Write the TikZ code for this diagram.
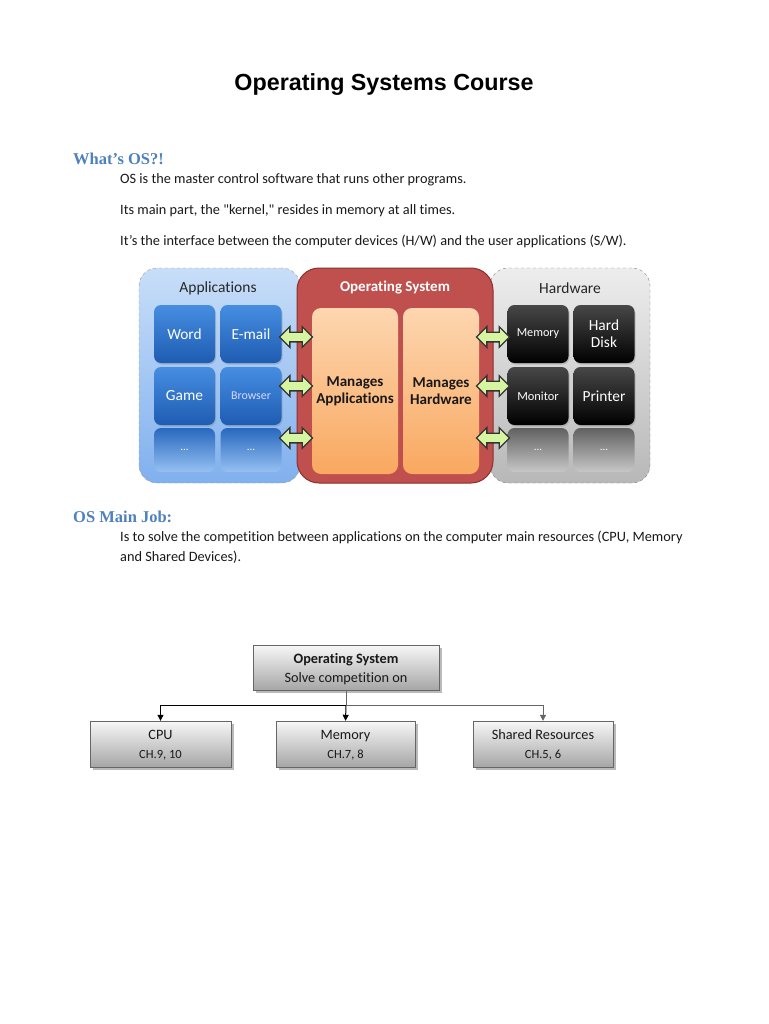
\documentclass[tikz,border=0pt]{standalone}
\usepackage{fontspec}
\setmainfont{Carlito}[Ligatures={TeXOff,NoCommon}]
\newfontfamily\titlefont{Liberation Sans}
\newfontfamily\headfont{Liberation Serif}
\usetikzlibrary{shapes.arrows,shadows,arrows.meta}
\definecolor{headblue}{RGB}{79,129,189}
\definecolor{osred}{RGB}{192,80,77}
\definecolor{osredd}{RGB}{140,48,46}
\newcommand\chsize{\fontsize{12.5}{19}\selectfont}
\tikzset{
  bodytxt/.style={anchor=west,inner sep=0pt,font=\fontsize{14.3}{17}\selectfont,text=black!90},
  headtxt/.style={anchor=west,inner sep=0pt,font=\headfont\bfseries\fontsize{16.5}{19}\selectfont,text=headblue},
  panelapp/.style={draw=black!40,dashed,rounded corners=18pt,top color={rgb,255:red,200;green,222;blue,248},bottom color={rgb,255:red,128;green,176;blue,238},minimum width=161pt,minimum height=215pt,inner sep=0pt},
  panelhw/.style={draw=black!50,dashed,rounded corners=18pt,top color=black!7,bottom color=black!28,minimum width=160pt,minimum height=215pt,inner sep=0pt},
  panelos/.style={draw=osredd,line width=1pt,rounded corners=22pt,fill=osred,minimum width=196pt,minimum height=215pt,inner sep=0pt},
  bluetile/.style={rounded corners=7pt,top color={rgb,255:red,70;green,142;blue,225},bottom color={rgb,255:red,30;green,92;blue,178},minimum width=61pt,minimum height=58pt,inner sep=0pt,text=white,font=\fontsize{15.4}{17}\selectfont,drop shadow={shadow xshift=1pt,shadow yshift=-1.5pt,opacity=0.35}},
  bluefade/.style={rounded corners=7pt,top color={rgb,255:red,40;green,104;blue,190},bottom color={rgb,255:red,150;green,192;blue,242},minimum width=61pt,minimum height=44pt,inner sep=0pt,text=white,font=\fontsize{11}{12}\selectfont},
  blacktile/.style={rounded corners=7pt,top color=black!72,bottom color=black,minimum width=61pt,minimum height=58pt,inner sep=0pt,text=white,font=\fontsize{15.4}{17}\selectfont,align=center,drop shadow={shadow xshift=1pt,shadow yshift=-1.5pt,opacity=0.35}},
  grayfade/.style={rounded corners=7pt,top color=black!62,bottom color=black!22,minimum width=61pt,minimum height=44pt,inner sep=0pt,text=white,font=\fontsize{11}{12}\selectfont},
  orangebox/.style={rounded corners=9pt,top color={rgb,255:red,253;green,214;blue,176},bottom color={rgb,255:red,249;green,168;blue,96},minimum height=166pt,inner sep=0pt,align=center,font=\bfseries\fontsize{15.1}{17}\selectfont,text=black!90},
  dblarrow/.style={double arrow,draw=black!80,line width=1.3pt,fill={rgb,255:red,214;green,245;blue,160},minimum height=33pt,inner xsep=0pt,inner ysep=4.2pt,double arrow head extend=5.5pt},
  treebox/.style={draw=black!60,top color=black!3,bottom color=black!35,align=center,inner sep=0pt,text=black!90,font=\fontsize{14.3}{19}\selectfont,drop shadow={shadow xshift=2.5pt,shadow yshift=-2.5pt,opacity=0.45,fill=black!60}},
  treetxt/.style={align=center,inner sep=0pt,text=black!90,font=\fontsize{14.3}{19}\selectfont},
  tarrow/.style={-{Triangle[length=6pt,width=6pt]},line width=1pt}
}
\begin{document}
\begin{tikzpicture}[x=1pt,y=-1pt]
\fill[white] (0,0) rectangle (768,1024);
\useasboundingbox (0,0) rectangle (768,1024);

% title and text
\node[font=\titlefont\bfseries\fontsize{23.3}{26}\selectfont] (title) at (384,85) {Operating Systems Course};
\node[headtxt] (h1) at (73,158.5) {What’s OS?!};
\node[bodytxt] (t1) at (120,179.5) {OS is the master control software that runs other programs.};
\node[bodytxt] (t2) at (120,210.5) {Its main part, the "kernel," resides in memory at all times.};
\node[bodytxt] (t3) at (120,241.5) {It’s the interface between the computer devices (H/W) and the user applications (S/W).};

% panels
\node[panelapp] (apps) at (219.5,375.5) {};
\node[panelhw] (hw) at (570,375.5) {};
\node[panelos] (os) at (395,375.5) {};
\node[font=\fontsize{15.5}{17}\selectfont,text=black!85] (appsh) at (218,288) {Applications};
\node[font=\bfseries\fontsize{15}{17}\selectfont,text=white] (osh) at (395,288) {Operating System};
\node[font=\fontsize{15.5}{17}\selectfont,text=black!85] (hwh) at (570,288) {Hardware};

% application tiles
\node[bluetile] (word) at (184.5,334) {Word};
\node[bluetile] (email) at (251,334) {E-mail};
\node[bluetile] (game) at (184.5,396) {Game};
\node[bluetile,font=\fontsize{11.9}{13}\selectfont,text=white!85!blue] (browser) at (251,396) {Browser};
\node[bluefade] (ad1) at (184.5,450) {...};
\node[bluefade] (ad2) at (251,450) {...};

% hardware tiles
\node[blacktile,font=\fontsize{12.2}{13}\selectfont] (mem) at (538,334) {Memory};
\node[blacktile] (disk) at (604,334) {Hard\\Disk};
\node[blacktile,font=\fontsize{12.4}{13}\selectfont] (mon) at (538,396) {Monitor};
\node[blacktile] (prn) at (604,396) {Printer};
\node[grayfade] (hd1) at (538,450) {...};
\node[grayfade] (hd2) at (604,450) {...};

% OS inner boxes
\node[orangebox,minimum width=86pt] (mapp) at (355,391) {Manages\\Applications};
\node[orangebox,minimum width=76pt] (mhw) at (441,391) {Manages\\Hardware};

% double arrows
\node[dblarrow] (a1) at (296,337) {};
\node[dblarrow] (a2) at (296,386) {};
\node[dblarrow] (a3) at (296,438) {};
\node[dblarrow] (b1) at (493,337) {};
\node[dblarrow] (b2) at (493,386) {};
\node[dblarrow] (b3) at (493,438) {};

% OS main job
\node[headtxt] (h2) at (73,516.5) {OS Main Job:};
\node[bodytxt] (t4) at (120,537) {Is to solve the competition between applications on the computer main resources (CPU, Memory};
\node[bodytxt] (t5) at (120,557) {and Shared Devices).};

% tree
\node[treebox,minimum width=186pt,minimum height=45pt] (tos) at (346,667.5) {};
\node[treetxt] (tost) at (346,669) {\textbf{Operating System}\\Solve competition on};
\node[treebox,minimum width=141pt,minimum height=46pt] (cpu) at (160.5,744) {};
\node[treetxt] (cput) at (160.5,745) {CPU\\{\chsize CH.9, 10}};
\node[treebox,minimum width=139pt,minimum height=46pt] (tmem) at (345.5,744) {};
\node[treetxt] (tmemt) at (345.5,745) {Memory\\{\chsize CH.7, 8}};
\node[treebox,minimum width=140pt,minimum height=46pt] (shr) at (543,744) {};
\node[treetxt] (shrt) at (543,745) {Shared Resources\\{\chsize CH.5, 6}};
\coordinate (j) at (346,705);
\draw[line width=1pt,black!60] (tos.south) -- (j);
\draw[tarrow,black] (j) -| (cpu.north);
\draw[tarrow,black] (j) -- (tmem.north);
\draw[tarrow,black!60] (j) -| (shr.north);
\end{tikzpicture}
\end{document}
